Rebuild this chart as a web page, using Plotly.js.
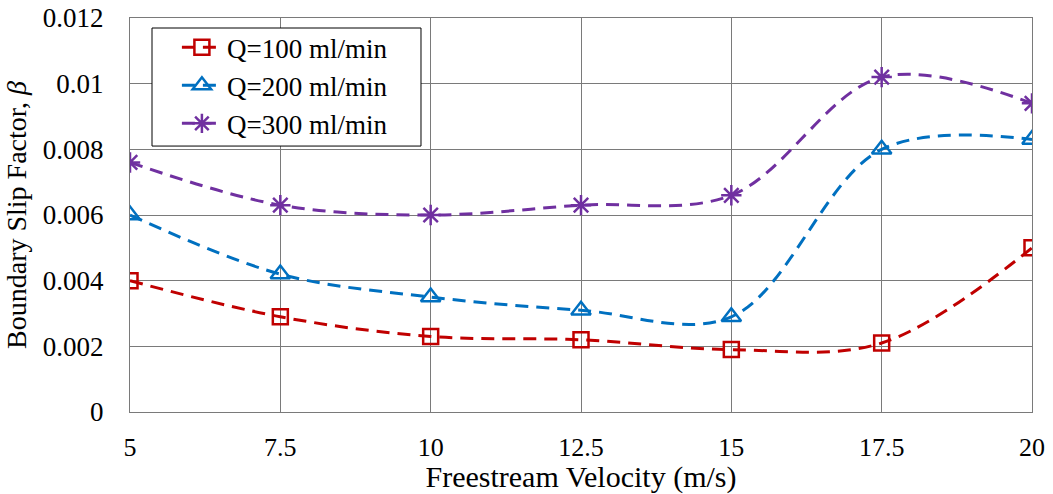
<!DOCTYPE html>
<html>
<head>
<meta charset="utf-8">
<script src="https://cdn.plot.ly/plotly-3.0.1.min.js"></script>
<style>html,body{margin:0;padding:0;background:#fff;}#chart{width:1053px;height:494px;}</style>
</head>
<body>
<div id="chart"></div>
<script>
const velocity = [5, 7.5, 10, 12.5, 15, 17.5, 20];
const q100 = [0.0040, 0.0029, 0.0023, 0.0022, 0.0019, 0.0021, 0.0050];
const q200 = [0.0060, 0.0042, 0.0035, 0.0031, 0.0029, 0.0080, 0.0083];
const q300 = [0.0076, 0.0063, 0.0060, 0.0063, 0.0066, 0.0102, 0.0094];
const seriesNames = ['Q=100 ml/min', 'Q=200 ml/min', 'Q=300 ml/min'];
const xTicks = [5, 7.5, 10, 12.5, 15, 17.5, 20];
const yTicks = [0, 0.002, 0.004, 0.006, 0.008, 0.01, 0.012];
const yTickText = ['0', '0.002', '0.004', '0.006', '0.008', '0.01', '0.012'];

const font = 'Liberation Serif, Times New Roman, serif';
function mk(y, name, color, symbol, size) {
  return {
    x: velocity, y: y, name: name, type: 'scatter', mode: 'lines+markers',
    line: {color: color, width: 3, dash: '13px,8px', shape: 'spline', smoothing: 1},
    marker: {symbol: symbol, size: size, color: color, line: {color: color, width: 2.5}}
  };
}
const data = [
  mk(q100, seriesNames[0], '#C00000', 'square-open', 15),
  mk(q200, seriesNames[1], '#0070C0', 'triangle-up-open', 17),
  mk(q300, seriesNames[2], '#7030A0', 'asterisk-open', 17)
];
const layout = {
  width: 1053, height: 494,
  margin: {l: 130, r: 21, t: 18, b: 82},
  paper_bgcolor: '#fff', plot_bgcolor: '#fff',
  font: {family: font, size: 26, color: '#000'},
  showlegend: true,
  legend: {x: 0.052, y: 0.987, xanchor: 'left', yanchor: 'top', bgcolor: 'rgba(0,0,0,0)',
           borderwidth: 0, itemwidth: 40,
           font: {family: font, size: 27}},
  shapes: [{type: 'rect', xref: 'paper', yref: 'paper', layer: 'above',
            x0: 0.0244, x1: 0.3226, y0: 0.675, y1: 0.9746,
            fillcolor: '#fff', line: {color: '#000', width: 1}}],
  xaxis: {
    range: [5, 20], tickvals: xTicks, ticktext: xTicks.map(String),
    showgrid: true, gridcolor: '#7a7a7a', gridwidth: 1,
    showline: true, linecolor: '#7a7a7a', linewidth: 1, mirror: true,
    zeroline: false, ticks: '', ticklabelstandoff: 12,
    tickfont: {family: font, size: 26},
    title: {text: 'Freestream Velocity (m/s)', font: {family: font, size: 30}, standoff: 4}
  },
  yaxis: {
    range: [0, 0.012], tickvals: yTicks, ticktext: yTickText,
    showgrid: true, gridcolor: '#7a7a7a', gridwidth: 1,
    showline: true, linecolor: '#7a7a7a', linewidth: 1, mirror: true,
    zeroline: false, ticks: '', ticklabelstandoff: 20,
    tickfont: {family: font, size: 27},
    title: {text: 'Boundary Slip Factor, <i>β</i>', font: {family: font, size: 28}, standoff: 8}
  }
};
Plotly.newPlot('chart', data, layout, {displayModeBar: false});
</script>
</body>
</html>
